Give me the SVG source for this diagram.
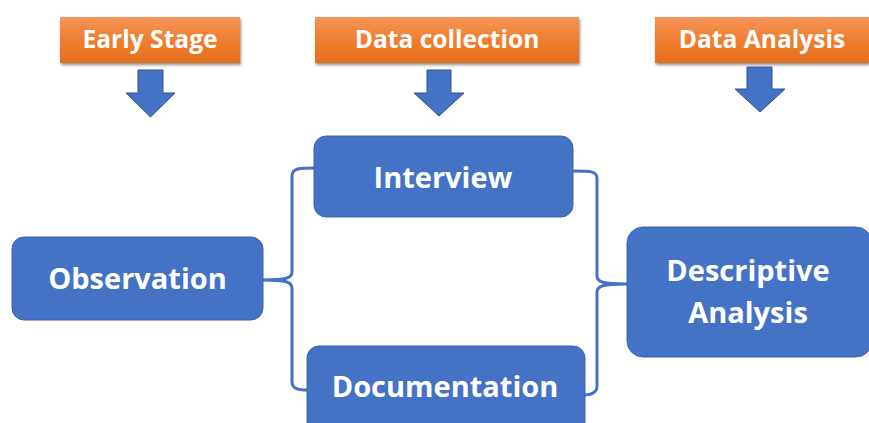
<svg xmlns="http://www.w3.org/2000/svg" width="869" height="423" viewBox="0 0 869 423">
<defs>
<linearGradient id="og" x1="0" y1="0" x2="0" y2="1">
<stop offset="0" stop-color="#f4955a"/>
<stop offset="0.5" stop-color="#f07e2f"/>
<stop offset="1" stop-color="#e5701d"/>
</linearGradient>
<filter id="sh" x="-10%" y="-20%" width="120%" height="150%">
<feGaussianBlur in="SourceAlpha" stdDeviation="1.5"/>
<feOffset dx="1" dy="2" result="b"/>
<feComponentTransfer><feFuncA type="linear" slope="0.45"/></feComponentTransfer>
<feMerge><feMergeNode/><feMergeNode in="SourceGraphic"/></feMerge>
</filter>
</defs>
<style>
text{font-variant-ligatures:none}
.stage{fill:url(#og);filter:url(#sh)}
.stxt{font-family:"Open Sans",Lato,sans-serif;font-weight:bold;font-size:24.6px;fill:#ffffff;text-anchor:middle}
.arrow{fill:#4472c4;stroke:#2f528f;stroke-width:1}
.box{fill:#4472c4;stroke:#3b64ad;stroke-width:1}
.btxt{font-family:"Open Sans",Lato,sans-serif;font-weight:bold;font-size:29px;fill:#ffffff;text-anchor:middle}
.conn{fill:none;stroke:#4472c4;stroke-width:3}
</style>
<g id="stage-early">
<rect class="stage" x="60" y="17" width="180" height="46"/>
<text class="stxt" x="150" y="48">Early Stage</text>
</g>
<g id="stage-collection">
<rect class="stage" x="315" y="17" width="264" height="46"/>
<text class="stxt" x="447" y="48">Data collection</text>
</g>
<g id="stage-analysis">
<rect class="stage" x="655" y="17" width="214" height="46"/>
<text class="stxt" x="762" y="48">Data Analysis</text>
</g>
<g id="arrow-early">
<polygon class="arrow" points="138,70 163,70 163,93 175,93 150.5,117 126,93 138,93"/>
</g>
<g id="arrow-collection">
<polygon class="arrow" points="427,70 451,70 451,93 464,93 439,116 414,93 427,93"/>
</g>
<g id="arrow-analysis">
<polygon class="arrow" points="747,67 772,67 772,89 785,89 760,112 735,89 747,89"/>
</g>
<g id="connectors">
<path class="conn" d="M314,168 C300,168 292,168 292,176 L292,272 C292,278 286,280 263,280 C286,280 292,282 292,288 L292,382 C292,389 299,390 307,390"/>
<path class="conn" d="M573,171 C590,171 597,171 597,178 L597,276 C597,282 603,284 627,284 C603,284 597,286 597,292 L597,386 C597,393 590,395 585,395"/>
</g>
<g id="observation">
<rect class="box" x="12" y="237" width="251" height="83" rx="12"/>
<text class="btxt" x="137.5" y="289">Observation</text>
</g>
<g id="interview">
<rect class="box" x="314" y="136" width="259" height="81" rx="12"/>
<text class="btxt" x="443" y="188">Interview</text>
</g>
<g id="documentation">
<rect class="box" x="307" y="346" width="278" height="90" rx="12"/>
<text class="btxt" x="445" y="397">Documentation</text>
</g>
<g id="descriptive">
<rect class="box" x="627" y="227" width="245" height="130" rx="16"/>
<text class="btxt" x="748" y="281">Descriptive</text>
<text class="btxt" x="748" y="323">Analysis</text>
</g>
</svg>
